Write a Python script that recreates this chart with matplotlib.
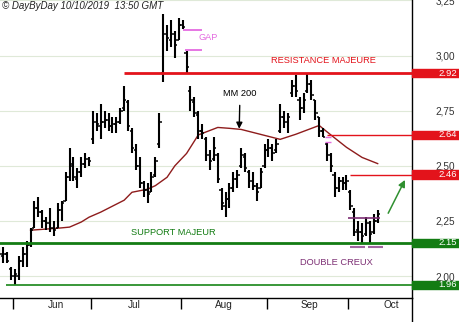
import matplotlib
matplotlib.use("Agg")
import matplotlib.pyplot as plt
from matplotlib.patches import Rectangle
from matplotlib.lines import Line2D
import matplotlib.transforms as mtransforms
import numpy as np
import pandas as pd

plt.rcParams['font.family'] = ['Liberation Sans', 'DejaVu Sans']

# ---------------- data ----------------
dates = pd.bdate_range('2019-05-28', '2019-10-10')

open_ = [2.11, 2.09, 2.10, 2.03, 2.00, 2.00, 2.07, 2.10, 2.14, 2.22,
         2.31, 2.29, 2.25, 2.24, 2.22, 2.22, 2.30, 2.34, 2.45, 2.51,
         2.44, 2.47, 2.51, 2.53, 2.62, 2.70, 2.68, 2.70, 2.71, 2.68,
         2.69, 2.70, 2.76, 2.79, 2.66, 2.57, 2.50, 2.42, 2.39, 2.38,
         2.46, 2.60, 2.92, 3.10, 3.07, 3.10, 3.07, 3.14, 3.01, 2.84,
         2.79, 2.73, 2.66, 2.62, 2.55, 2.53, 2.55, 2.39, 2.32, 2.35,
         2.40, 2.44, 2.50, 2.54, 2.47, 2.43, 2.41, 2.40, 2.50, 2.57,
         2.58, 2.57, 2.66, 2.72, 2.70, 2.83, 2.86, 2.80, 2.76, 2.84,
         2.87, 2.80, 2.72, 2.66, 2.60, 2.55, 2.46, 2.40, 2.43, 2.42,
         2.38, 2.29, 2.21, 2.20, 2.19, 2.24, 2.20, 2.25]
high = [2.13, 2.13, 2.11, 2.04, 2.03, 2.09, 2.13, 2.16, 2.22, 2.34,
        2.36, 2.30, 2.27, 2.31, 2.25, 2.33, 2.34, 2.47, 2.58, 2.54,
        2.49, 2.54, 2.56, 2.54, 2.75, 2.74, 2.78, 2.75, 2.74, 2.72,
        2.72, 2.76, 2.86, 2.80, 2.67, 2.60, 2.54, 2.43, 2.42, 2.47,
        2.54, 2.74, 3.19, 3.14, 3.16, 3.11, 3.17, 3.16, 3.02, 2.86,
        2.81, 2.75, 2.69, 2.63, 2.57, 2.63, 2.56, 2.40, 2.38, 2.42,
        2.47, 2.48, 2.58, 2.56, 2.48, 2.47, 2.42, 2.49, 2.60, 2.62,
        2.60, 2.62, 2.78, 2.75, 2.74, 2.89, 2.91, 2.81, 2.83, 2.92,
        2.89, 2.80, 2.72, 2.67, 2.61, 2.56, 2.47, 2.45, 2.45, 2.46,
        2.39, 2.31, 2.25, 2.24, 2.27, 2.25, 2.28, 2.30]
low = [2.08, 2.06, 2.06, 1.98, 1.96, 1.98, 2.04, 2.04, 2.13, 2.22,
       2.27, 2.22, 2.21, 2.20, 2.18, 2.22, 2.25, 2.34, 2.43, 2.43,
       2.40, 2.45, 2.49, 2.50, 2.60, 2.66, 2.62, 2.67, 2.66, 2.65,
       2.65, 2.69, 2.75, 2.66, 2.56, 2.48, 2.40, 2.36, 2.33, 2.38,
       2.45, 2.58, 2.88, 3.02, 3.04, 2.99, 3.07, 3.12, 2.92, 2.75,
       2.72, 2.62, 2.62, 2.52, 2.48, 2.52, 2.42, 2.30, 2.27, 2.31,
       2.38, 2.40, 2.49, 2.47, 2.40, 2.39, 2.34, 2.40, 2.49, 2.54,
       2.52, 2.56, 2.65, 2.67, 2.65, 2.81, 2.81, 2.71, 2.74, 2.83,
       2.80, 2.71, 2.63, 2.63, 2.52, 2.47, 2.36, 2.38, 2.39, 2.39,
       2.30, 2.18, 2.16, 2.15, 2.18, 2.15, 2.19, 2.24]
close = [2.10, 2.10, 2.07, 2.00, 2.01, 2.07, 2.10, 2.14, 2.21, 2.31,
         2.29, 2.25, 2.24, 2.22, 2.21, 2.30, 2.33, 2.45, 2.50, 2.45,
         2.47, 2.51, 2.53, 2.52, 2.70, 2.69, 2.70, 2.71, 2.68, 2.69,
         2.70, 2.75, 2.80, 2.68, 2.58, 2.50, 2.42, 2.39, 2.37, 2.45,
         2.52, 2.70, 3.10, 3.08, 3.10, 3.05, 3.14, 3.13, 2.95, 2.80,
         2.74, 2.66, 2.65, 2.55, 2.52, 2.58, 2.44, 2.33, 2.35, 2.40,
         2.44, 2.46, 2.55, 2.49, 2.43, 2.41, 2.38, 2.47, 2.57, 2.58,
         2.56, 2.60, 2.72, 2.70, 2.72, 2.86, 2.84, 2.76, 2.80, 2.87,
         2.82, 2.74, 2.66, 2.63, 2.55, 2.50, 2.40, 2.43, 2.42, 2.43,
         2.32, 2.20, 2.20, 2.18, 2.24, 2.19, 2.25, 2.28]

# 200-period moving average, read at selected bars (bar index, value)
ma_bar = [8, 15, 18, 21, 23, 26, 32, 34, 38, 40, 43, 45, 48, 51, 56,
          59, 62, 66, 72, 76, 82, 85, 89, 93, 97]
ma_val = [2.208, 2.217, 2.222, 2.245, 2.267, 2.29, 2.344, 2.38, 2.394,
          2.41, 2.448, 2.50, 2.556, 2.64, 2.674, 2.67, 2.665, 2.647,
          2.62, 2.643, 2.683, 2.64, 2.584, 2.538, 2.51]

y_ticks = [2.00, 2.25, 2.50, 2.75, 3.00, 3.25]
y_tick_labels = ['2,00', '2,25', '2,50', '2,75', '3,00', '3,25']

resistance = 2.92
support = 2.15
levels_red = [2.92, 2.64, 2.46]
levels_green = [2.15, 1.96]
gap_top, gap_bot = 3.118, 3.023
neckline = 2.262
creux_mark = 2.131
small_gap = [2.63, 2.61]

# ---------------- figure ----------------
W, H = 460, 322
fig = plt.figure(figsize=(W / 100, H / 100), dpi=100)
ax = fig.add_axes([0, 24 / H, 412 / W, 298 / H])

RED = '#e3131b'
GREEN = '#137c13'
PINK = '#e46be0'
PURPLE = '#7d2f74'
MAROON = '#8e1c1c'

x = np.arange(len(dates))
ax.set_xlim(0.17, 105.8)
ax.set_ylim(1.9005, 3.252)

# grid
for yt in y_ticks:
    ax.axhline(yt, color='#dfe9d8', lw=0.8, zorder=0)

# price bars (OHLC)
ax.vlines(x, low, high, color='black', lw=1.5, zorder=3)
ax.hlines(open_, x - 0.6, x, color='black', lw=1.1, zorder=3)
ax.hlines(close, x, x + 0.6, color='black', lw=1.1, zorder=3)

# moving average
ax.plot(ma_bar, ma_val, color=MAROON, lw=1.0, zorder=2)

xmax = ax.get_xlim()[1]
# resistance / support lines
ax.hlines(resistance, 32, xmax, color=RED, lw=2.0, zorder=4)
ax.hlines(levels_red[1], 84, xmax, color=RED, lw=1.0, zorder=4)
ax.hlines(levels_red[2], 90, xmax, color=RED, lw=1.0, zorder=4)
ax.axhline(support, color=GREEN, lw=2.0, zorder=4)
ax.hlines(levels_green[1], 1.7, xmax, color='#2a8f2a', lw=1.3, zorder=4)

# gap markers
ax.hlines([gap_top, gap_bot], [47, 47.6], [52, 52], color=PINK, lw=1.3, zorder=4)
ax.text(53.6, 3.081, 'GAP', color=PINK, fontsize=6.6, ha='center', va='center')
ax.hlines(small_gap, 83.6, 85.0, color=PINK, lw=1.0, zorder=5)

# double bottom
ax.hlines(neckline, 89.4, 97.6, color=PURPLE, lw=1.2, zorder=4)
ax.hlines([creux_mark, creux_mark], [90, 94.5], [93.8, 98.4], color='#a066a0', lw=1.5, zorder=4)

# texts
ax.text(83.1, 2.977, 'RESISTANCE MAJEURE', color=RED, fontsize=6.7,
        ha='center', va='center')
ax.text(44.7, 2.199, 'SUPPORT MAJEUR', color=GREEN, fontsize=6.7,
        ha='center', va='center')
ax.text(86.3, 2.063, 'DOUBLE CREUX', color=PURPLE, fontsize=6.7,
        ha='center', va='center')
ax.annotate('MM 200', xy=(61.5, 2.668), xytext=(61.7, 2.826),
            fontsize=6.7, ha='center', va='center', color='black',
            arrowprops=dict(arrowstyle='-|>', color='black', lw=1.0,
                            mutation_scale=9, shrinkA=3, shrinkB=0))
ax.annotate('', xy=(104.0, 2.436), xytext=(99.7, 2.285),
            arrowprops=dict(arrowstyle='-|>', color='#2f9030', lw=1.1,
                            mutation_scale=10, shrinkA=0, shrinkB=0))

fig.text(2 / W, 1 - 6 / H, '\u00a9 DayByDay 10/10/2019  13:50 GMT', fontsize=7.0,
         style='italic', ha='left', va='center', color='#222222')

# right-side value boxes
trans = mtransforms.blended_transform_factory(ax.transAxes, ax.transData)
box_h = 8.6 / 221
for lv, col in [(v, RED) for v in levels_red] + [(v, GREEN) for v in levels_green]:
    ax.add_patch(Rectangle((1.0, lv - box_h / 2), (W - 412) / 412, box_h,
                           transform=trans, color=col, clip_on=False, zorder=6))
    ax.text(457 / 412, lv, f'{lv:.2f}', transform=trans, color='white',
            fontsize=6.8, ha='right', va='center', clip_on=False, zorder=7)

# y axis on the right
ax.yaxis.tick_right()
ax.set_yticks(y_ticks)
ax.set_yticklabels(y_tick_labels)
ax.tick_params(axis='y', length=0, pad=17, labelsize=7.2, labelcolor='#333333')

# x axis: month boundaries and labels
months = dates.month
bounds = [i - 0.5 for i in range(1, len(dates)) if months[i] != months[i - 1]]
labels = [dates[int(b + 0.5)].strftime('%b') for b in bounds]
ax.set_xticks(bounds)
ax.set_xticklabels([])
ax.set_xticks([b + 11 for b in bounds], minor=True)
ax.set_xticklabels(labels, minor=True)
ax.tick_params(axis='x', which='major', length=8, width=1.0, direction='out', color='black')
ax.tick_params(axis='x', which='minor', length=0, pad=1.5, labelsize=7.2, labelcolor='#222222')

for s in ['left', 'top']:
    ax.spines[s].set_visible(False)
ax.spines['bottom'].set_linewidth(1.0)
ax.spines['right'].set_linewidth(1.0)
fig.add_artist(Line2D([412 / W, 412 / W], [0, 24 / H], color='black', lw=1.0,
                      transform=fig.transFigure))

fig.savefig('out.png', dpi=100)
